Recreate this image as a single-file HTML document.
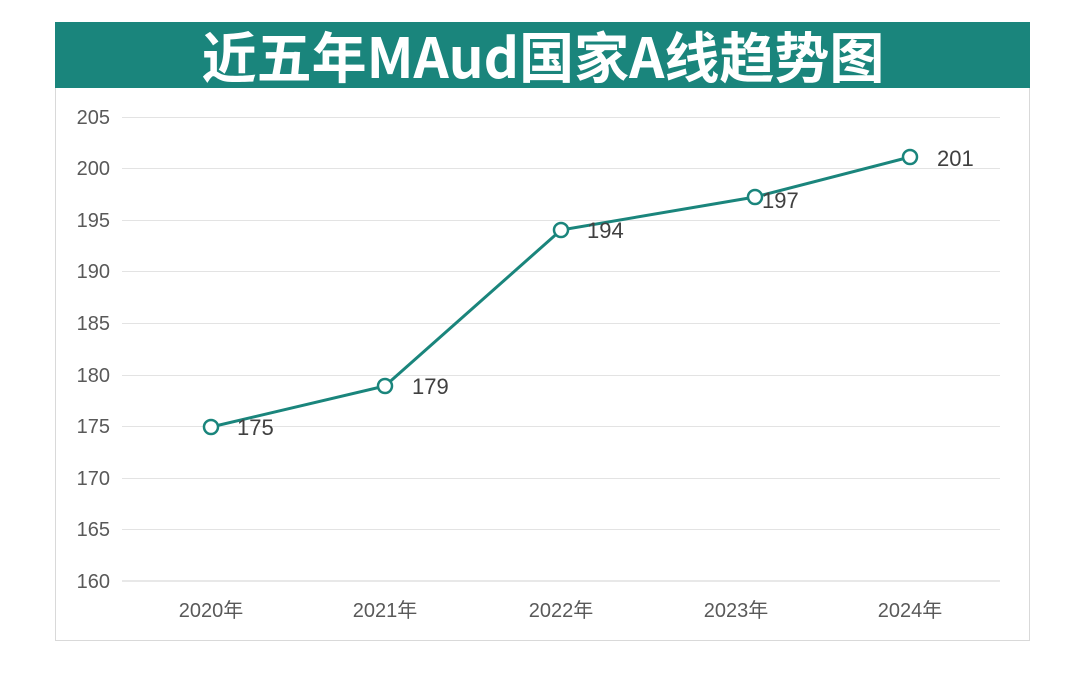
<!DOCTYPE html>
<html><head><meta charset="utf-8"><style>
body{margin:0;background:#fff;width:1080px;height:693px;overflow:hidden}
</style></head><body>
<svg width="1080" height="693" xmlns="http://www.w3.org/2000/svg" font-family="'Liberation Sans','Noto Sans CJK SC',sans-serif">
<rect x="55.5" y="87.5" width="974" height="553" fill="#fff" stroke="#d9d9d9"/>
<rect x="55" y="22" width="975" height="66" fill="#1a857c"/>
<text x="543" y="78" text-anchor="middle" fill="#fff" font-size="55" font-weight="bold" font-family="'Noto Sans CJK SC',sans-serif">近五年MAud国家A线趋势图</text>
<g stroke="#e3e3e3" stroke-width="1">
<line x1="122" x2="1000" y1="117.5" y2="117.5"/><line x1="122" x2="1000" y1="168.5" y2="168.5"/><line x1="122" x2="1000" y1="220.5" y2="220.5"/><line x1="122" x2="1000" y1="271.5" y2="271.5"/><line x1="122" x2="1000" y1="323.5" y2="323.5"/><line x1="122" x2="1000" y1="375.5" y2="375.5"/><line x1="122" x2="1000" y1="426.5" y2="426.5"/><line x1="122" x2="1000" y1="478.5" y2="478.5"/><line x1="122" x2="1000" y1="529.5" y2="529.5"/></g>
<line x1="122" x2="1000" y1="581" y2="581" stroke="#d0d0d0"/>
<g fill="#595959" font-size="20" text-anchor="end">
<text x="110" y="124">205</text><text x="110" y="175">200</text><text x="110" y="227">195</text><text x="110" y="278">190</text><text x="110" y="330">185</text><text x="110" y="382">180</text><text x="110" y="433">175</text><text x="110" y="485">170</text><text x="110" y="536">165</text><text x="110" y="588">160</text></g>
<g fill="#595959" font-size="20" text-anchor="middle">
<text x="211" y="617">2020年</text><text x="385" y="617">2021年</text><text x="561" y="617">2022年</text><text x="736" y="617">2023年</text><text x="910" y="617">2024年</text></g>
<polyline points="211,427 385,386 561,230 755,197 910,157" fill="none" stroke="#1a857c" stroke-width="3"/>
<g fill="#fff" stroke="#1a857c" stroke-width="2.5">
<circle cx="211" cy="427" r="7"/><circle cx="385" cy="386" r="7"/><circle cx="561" cy="230" r="7"/><circle cx="755" cy="197" r="7"/><circle cx="910" cy="157" r="7"/></g>
<g fill="#404040" font-size="22">
<text x="237" y="435">175</text><text x="412" y="394">179</text><text x="587" y="238">194</text><text x="762" y="208">197</text><text x="937" y="166">201</text></g>
</svg>
</body></html>
